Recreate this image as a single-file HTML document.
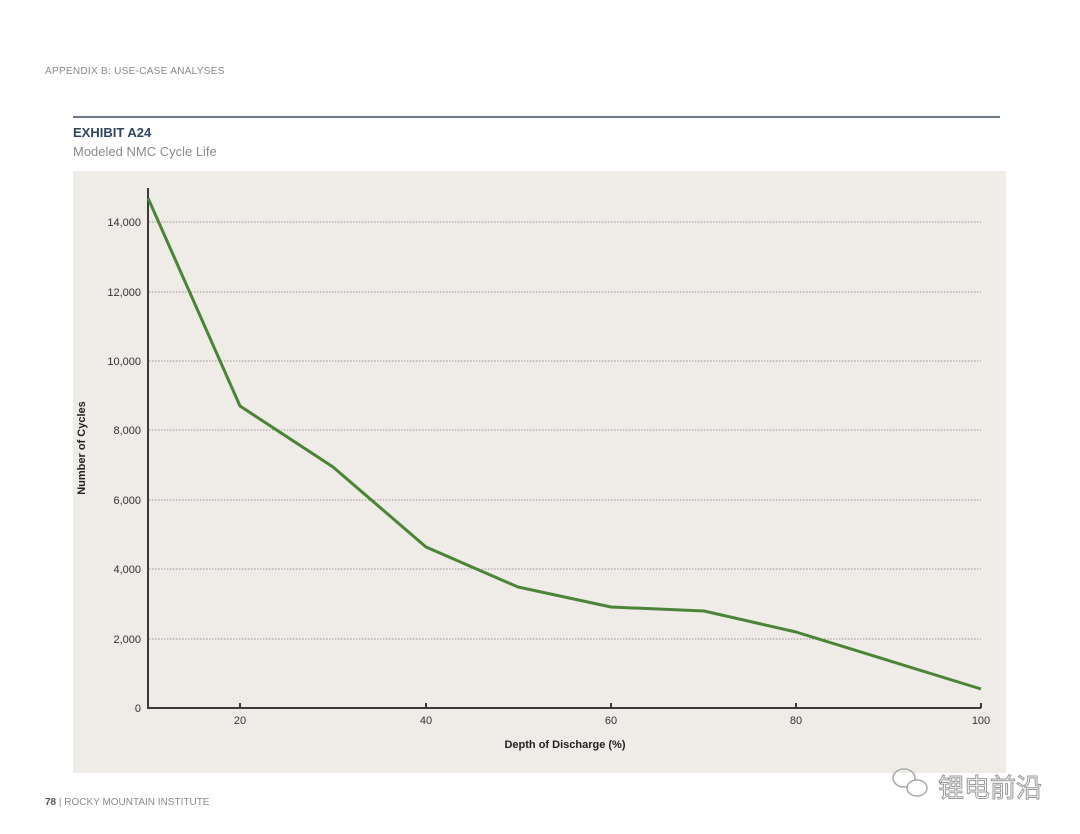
<!DOCTYPE html>
<html><head><meta charset="utf-8"><style>
body{margin:0;background:#fff;}
svg{display:block;font-family:"Liberation Sans","Noto Sans CJK SC",sans-serif;}
</style></head><body>
<svg width="1080" height="834" viewBox="0 0 1080 834" xmlns="http://www.w3.org/2000/svg">
<rect width="1080" height="834" fill="#fff"/>
<text x="45" y="74" font-size="10" fill="#8a8a8a" letter-spacing="0.3">APPENDIX B: USE-CASE ANALYSES</text>
<rect x="73" y="116" width="927" height="2" fill="#6b7a86"/>
<text x="73" y="137" font-size="13" font-weight="bold" fill="#2d4560">EXHIBIT A24</text>
<text x="73" y="156" font-size="13" fill="#8a8a8a">Modeled NMC Cycle Life</text>
<rect x="73" y="171" width="933" height="602" fill="#efece8"/>
<g stroke="#999" stroke-width="1" stroke-dasharray="1.5,1.5">
<line x1="149" x2="981" y1="222" y2="222"/><line x1="149" x2="981" y1="292" y2="292"/>
<line x1="149" x2="981" y1="361" y2="361"/><line x1="149" x2="981" y1="430" y2="430"/>
<line x1="149" x2="981" y1="500" y2="500"/><line x1="149" x2="981" y1="569" y2="569"/>
<line x1="149" x2="981" y1="639" y2="639"/>
</g>
<g stroke="#3a3a3a" stroke-width="2" fill="none">
<line x1="148" y1="188" x2="148" y2="709"/>
<line x1="147" y1="708" x2="981" y2="708"/>
<line x1="240" y1="703" x2="240" y2="708"/><line x1="426" y1="703" x2="426" y2="708"/>
<line x1="611" y1="703" x2="611" y2="708"/><line x1="796" y1="703" x2="796" y2="708"/>
<line x1="981" y1="703" x2="981" y2="708"/>
</g>
<polyline fill="none" stroke="#4b8436" stroke-width="3" stroke-linejoin="round" points="148,198 240,406 333,467 426,547 518,587 611,607 704,611 796,632 981,689"/>
<g font-size="11" fill="#333" text-anchor="end">
<text x="141" y="226">14,000</text><text x="141" y="296">12,000</text>
<text x="141" y="365">10,000</text><text x="141" y="434">8,000</text>
<text x="141" y="504">6,000</text><text x="141" y="573">4,000</text>
<text x="141" y="643">2,000</text><text x="141" y="712">0</text>
</g>
<g font-size="11" fill="#333" text-anchor="middle">
<text x="240" y="724">20</text><text x="426" y="724">40</text><text x="611" y="724">60</text>
<text x="796" y="724">80</text><text x="981" y="724">100</text>
</g>
<text x="565" y="748" font-size="11" font-weight="bold" fill="#222" text-anchor="middle">Depth of Discharge (%)</text>
<text transform="translate(85,448) rotate(-90)" font-size="11" font-weight="bold" fill="#222" text-anchor="middle">Number of Cycles</text>
<text x="45" y="805" font-size="10" fill="#8a8a8a"><tspan font-weight="bold" fill="#555">78</tspan> | ROCKY MOUNTAIN INSTITUTE</text>
<g fill="none" stroke="#aaa" stroke-width="1.5">
<ellipse cx="904" cy="778" rx="11" ry="9"/>
<ellipse cx="917" cy="788" rx="10" ry="8" fill="#fff"/>
</g>
<text x="938" y="797" font-size="26" fill="#fff" stroke="#999" stroke-width="1">锂电前沿</text>
</svg>
</body></html>
